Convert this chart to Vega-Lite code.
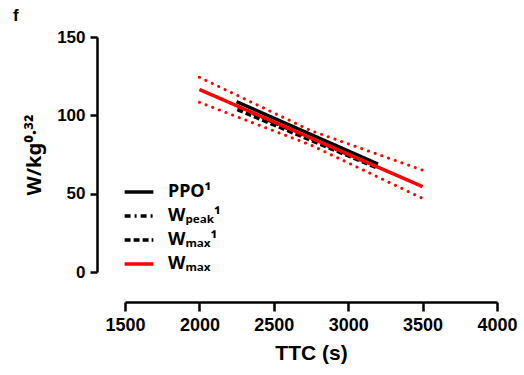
{
  "$schema": "https://vega.github.io/schema/vega-lite/v6.json",
  "autosize": {"type": "none"},
  "width": 372,
  "height": 235,
  "padding": {"left": 125, "top": 37, "right": 27, "bottom": 103},
  "background": "white",
  "config": {
    "view": {"stroke": null},
    "font": "Liberation Sans"
  },
  "title": {
    "text": "f",
    "anchor": "start",
    "frame": "group",
    "dx": -112,
    "dy": 1,
    "fontSize": 17,
    "fontWeight": "bold",
    "font": "Liberation Sans",
    "color": "black"
  },
  "datasets": {
    "fits": [
      {"series": "PPO¹", "ttc": 2250, "w": 108.7},
      {"series": "PPO¹", "ttc": 3200, "w": 68.9},
      {"series": "Wₚₑₐₖ¹", "ttc": 2260, "w": 105.2},
      {"series": "Wₚₑₐₖ¹", "ttc": 3190, "w": 67.2},
      {"series": "Wₘₐₓ¹", "ttc": 2255, "w": 103.6},
      {"series": "Wₘₐₓ¹", "ttc": 3195, "w": 66.4},
      {"series": "Wₘₐₓ", "ttc": 2000, "w": 116.5},
      {"series": "Wₘₐₓ", "ttc": 3500, "w": 54.5}
    ],
    "ci": [
      {"band": "upper", "ttc": 2000, "w": 124.3},
      {"band": "upper", "ttc": 2750, "w": 90.2},
      {"band": "upper", "ttc": 3500, "w": 65.0},
      {"band": "lower", "ttc": 2000, "w": 108.3},
      {"band": "lower", "ttc": 2750, "w": 81.0},
      {"band": "lower", "ttc": 3500, "w": 47.0}
    ]
  },
  "encoding": {
    "x": {
      "field": "ttc", "type": "quantitative",
      "scale": {"domain": [1500, 4000], "nice": false, "zero": false},
      "axis": {
        "title": "TTC (s)",
        "values": [1500, 2000, 2500, 3000, 3500, 4000],
        "format": "d",
        "offset": 30,
        "grid": false,
        "domainColor": "black", "domainWidth": 2.5,
        "tickColor": "black", "tickWidth": 2.5, "tickSize": 9,
        "labelFont": "Liberation Sans", "labelFontSize": 18, "labelFontWeight": "bold", "labelColor": "black",
        "labelPadding": 5, "labelFlush": false,
        "titleFont": "Liberation Sans", "titleFontSize": 21, "titleFontWeight": "bold", "titleColor": "black",
        "titlePadding": 8
      }
    },
    "y": {
      "field": "w", "type": "quantitative",
      "scale": {"domain": [0, 150], "nice": false},
      "axis": {
        "title": "W/kg⁰·³²",
        "values": [0, 50, 100, 150],
        "offset": 28,
        "grid": false,
        "domainColor": "black", "domainWidth": 2.5,
        "tickColor": "black", "tickWidth": 2.5, "tickSize": 7,
        "labelFont": "Liberation Sans", "labelFontSize": 17, "labelFontWeight": "bold", "labelColor": "black",
        "labelPadding": 5,
        "titleFont": "Noto Sans", "titleFontSize": 20, "titleFontWeight": "bold", "titleColor": "black",
        "titlePadding": 12
      }
    }
  },
  "layer": [
    {
      "data": {"name": "ci"},
      "mark": {"type": "line", "color": "#ff0000", "strokeWidth": 3, "strokeDash": [0.1, 7], "strokeCap": "round"},
      "encoding": {"detail": {"field": "band"}}
    },
    {
      "data": {"name": "fits"},
      "mark": {"type": "line", "strokeCap": "butt"},
      "encoding": {
        "color": {
          "field": "series", "type": "nominal",
          "scale": {"domain": ["PPO¹", "Wₚₑₐₖ¹", "Wₘₐₓ¹", "Wₘₐₓ"], "range": ["black", "black", "black", "#ff0000"]},
          "legend": {
            "title": null,
            "orient": "none",
            "legendX": 0,
            "legendY": 141,
            "symbolType": "M-1.2,0H1.2",
            "symbolSize": 576,
            "symbolStrokeWidth": 3,
            "symbolFillColor": "transparent",
            "labelFont": "Noto Sans",
            "labelFontSize": 18,
            "labelFontWeight": "bold",
            "labelColor": "black",
            "labelOffset": 15,
            "rowPadding": 1
          }
        },
        "strokeDash": {
          "field": "series", "type": "nominal",
          "scale": {"domain": ["PPO¹", "Wₚₑₐₖ¹", "Wₘₐₓ¹", "Wₘₐₓ"], "range": [[1, 0], [6, 4, 2, 4], [6, 3], [1, 0]]},
          "legend": null
        },
        "strokeWidth": {
          "field": "series", "type": "nominal",
          "scale": {"domain": ["PPO¹", "Wₚₑₐₖ¹", "Wₘₐₓ¹", "Wₘₐₓ"], "range": [3.5, 3.5, 3.5, 2.5]},
          "legend": null
        },
        "order": {"field": "series", "sort": "descending"}
      }
    }
  ]
}
